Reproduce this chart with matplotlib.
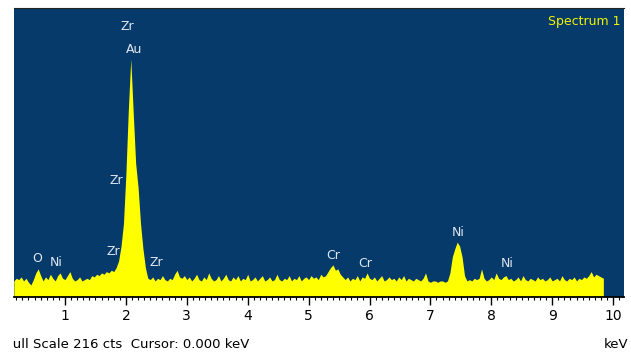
import numpy as np
import matplotlib.pyplot as plt
from matplotlib.patches import Rectangle
from matplotlib.ticker import MultipleLocator

# EDS spectrum, counts per 0.04 keV channel starting at 0.16 keV
start_kev = 0.16
step_kev = 0.04
counts = [
    # 0.16 - 0.96
    12, 14, 13, 15, 12, 14, 11, 9, 13, 18, 21, 16, 12, 15, 13, 17, 14, 12, 16, 18, 14,
    # 1.00 - 1.88
    13, 16, 19, 14, 12, 13, 15, 12, 13, 14, 13, 16, 15, 17, 16, 18, 17, 19, 18, 20, 19, 22, 27,
    # 1.92 - 2.36 (Zr L / Au M)
    38, 55, 92, 140, 178, 138, 100, 82, 55, 36, 22, 14,
    # 2.40 - 2.96
    13, 15, 12, 14, 13, 16, 13, 12, 14, 13, 17, 20, 15, 14, 16,
    # 3.00 - 3.96
    13, 15, 12, 14, 17, 13, 12, 15, 13, 18, 14, 12, 13, 16, 12, 14, 17, 13, 12, 15, 13, 16, 12, 14, 13,
    # 4.00 - 4.96
    17, 12, 13, 15, 12, 14, 16, 12, 13, 15, 12, 13, 17, 13, 12, 14, 13, 16, 12, 14, 13, 16, 12, 14, 15,
    # 5.00 - 5.96 (Cr)
    13, 16, 14, 15, 13, 17, 15, 16, 19, 22, 24, 20, 21, 17, 15, 13, 15, 12, 14, 13, 16, 12, 15, 14, 18,
    # 6.00 - 6.96
    14, 13, 15, 12, 14, 16, 12, 13, 15, 13, 14, 12, 15, 13, 16, 12, 14, 13, 12, 14, 13, 12, 14, 18, 12,
    # 7.00 - 7.96 (Ni K)
    11, 12, 12, 11, 12, 12, 11, 12, 18, 30, 36, 41, 38, 30, 16, 12, 13, 12, 14, 13, 14, 21, 14, 12, 13,
    # 8.00 - 8.96
    15, 13, 18, 14, 13, 15, 16, 13, 14, 12, 13, 15, 12, 16, 13, 12, 14, 13, 12, 15, 13, 14, 12, 13, 15,
    # 9.00 - 9.84
    12, 13, 14, 12, 16, 13, 12, 14, 13, 15, 12, 14, 13, 15, 14, 16, 19, 15, 17, 16, 15, 14,
]
full_scale = 216

# peak labels: text, energy (keV), height in counts where the label sits
labels = ["Zr", "Au", "Zr", "Zr", "Zr", "O", "Ni", "Cr", "Cr", "Ni", "Ni"]
label_kev = [2.03, 2.13, 1.85, 1.79, 2.50, 0.54, 0.85, 5.40, 5.93, 7.45, 8.26]
label_cts = [202, 185, 87, 34, 26, 29, 26, 31, 25, 48, 25]

energy = start_kev + step_kev * np.arange(len(counts))

W, H = 631, 354
fig = plt.figure(figsize=(W / 100, H / 100), dpi=100)
plt.rcParams['font.family'] = ['DejaVu Sans']

left, right, top, bottom = 14, 624, 8, 297
ax = fig.add_axes([left / W, 1 - bottom / H, (right - left) / W, (bottom - top) / H])
ax.set_facecolor('#053a6b')

ax.fill_between(energy, counts, 0, color='#ffff00', lw=0)

# pixel 4.1 -> 0 keV, 60.9 px per keV
ax.set_xlim((left - 4.1) / 60.9, (right - 4.1) / 60.9)
ax.set_ylim(0, full_scale)

ax.xaxis.set_major_locator(MultipleLocator(1))
ax.xaxis.set_minor_locator(MultipleLocator(0.1))
ax.tick_params(axis='x', which='major', direction='out', length=5.5, width=1,
               labelsize=10, pad=3, color='black')
ax.tick_params(axis='x', which='minor', direction='out', length=2.5, width=0.8, color='black')
ax.set_xticklabels([str(int(t)) if t > 0.5 else "" for t in ax.get_xticks()])
ax.set_yticks([])

for side in ['left', 'right']:
    ax.spines[side].set_visible(False)
ax.spines['top'].set_color('#222222')
ax.spines['top'].set_linewidth(0.8)
ax.spines['bottom'].set_color('black')
ax.spines['bottom'].set_linewidth(1.3)

for t, e, c in zip(labels, label_kev, label_cts):
    ax.text(e, c, t, color='#dfe6ef', fontsize=9, ha='center', va='center')

ax.text(0.995, 0.955, "Spectrum 1", transform=ax.transAxes, color='#f2f200',
        fontsize=9, ha='right', va='center')

fig.text(6 / W, 1 - 345 / H, "Full Scale 216 cts  Cursor: 0.000 keV", fontsize=9.5,
         ha='left', va='center', zorder=1)
fig.text(628 / W, 1 - 345 / H, "keV", fontsize=9.5, ha='right', va='center', zorder=1)
fig.patches.append(Rectangle((0, 0), 13 / W, 1, transform=fig.transFigure,
                             facecolor='white', edgecolor='none', zorder=5))

fig.savefig('out.png', dpi=100)
